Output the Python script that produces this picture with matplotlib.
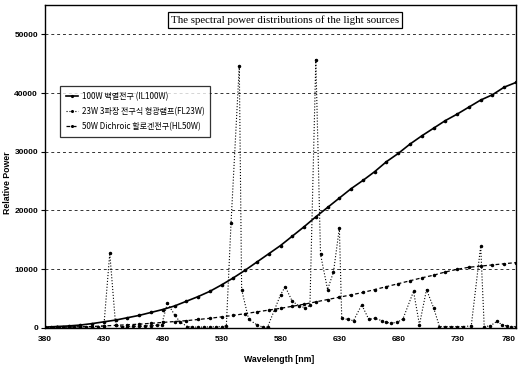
import matplotlib
matplotlib.use("Agg")
import matplotlib.pyplot as plt

# 100W 백열전구 (IL100W), 10 nm 간격
il_nm = list(range(380, 781, 10))
il_val = [100, 200, 300, 450, 700, 1000, 1300, 1700, 2100, 2600,
          3100, 3700, 4500, 5300, 6200, 7300, 8500, 9800, 11200, 12600,
          14000, 15600, 17200, 18900, 20500, 22100, 23700, 25100, 26600, 28300,
          29700, 31300, 32700, 34000, 35300, 36400, 37600, 38800, 39700, 41000,
          41800]

# 23W 3파장 전구식 형광램프(FL23W)
fl_nm = [380, 385, 390, 395, 400, 405, 410, 415, 420, 425, 430, 435, 440,
         445, 450, 455, 460, 465, 470, 475, 479, 484, 490, 495, 501, 505,
         510, 515, 520, 525, 530, 534, 538, 545, 547, 553, 560, 565, 569,
         575, 580, 584, 590, 596, 601, 605, 610, 614, 620, 625, 630, 632,
         637, 642, 649, 655, 660, 666, 670, 674, 679, 684, 693, 698, 704,
         710, 715, 720, 725, 730, 735, 742, 750, 753, 758, 764, 768, 772,
         776, 780]
fl_val = [100, 100, 150, 100, 150, 150, 200, 150, 200, 200, 300, 12700, 400,
          200, 200, 250, 250, 300, 350, 400, 500, 4200, 2200, 900, 200, 100,
          100, 100, 150, 150, 200, 300, 17900, 44600, 6500, 1400, 500, 100, 100,
          3100, 5600, 7000, 4500, 3700, 3400, 3800, 45700, 12500, 6500, 9500, 17000, 1650,
          1400, 1200, 3900, 1400, 1600, 1200, 900, 800, 900, 1500, 6200, 500, 6500,
          3400, 200, 200, 200, 200, 200, 300, 13900, 200, 300, 1100, 500, 300,
          200, 200]

# 50W Dichroic 할로겐전구(HL50W), 10 nm 간격
hl_nm = list(range(380, 781, 10))
hl_val = [0, 50, 100, 150, 200, 300, 400, 500, 600, 750,
          900, 1050, 1200, 1400, 1600, 1850, 2100, 2400, 2700, 3000,
          3300, 3650, 4000, 4400, 4800, 5200, 5600, 6000, 6500, 7000,
          7500, 8000, 8500, 8950, 9500, 9950, 10300, 10500, 10700, 10900,
          11100]

labels = ["100W 백열전구 (IL100W)",
          "23W 3파장 전구식 형광램프(FL23W)",
          "50W Dichroic 할로겐전구(HL50W)"]
xticks = [380, 430, 480, 530, 580, 630, 680, 730, 780]
yticks = [0, 10000, 20000, 30000, 40000, 50000]

plt.rcParams['font.family'] = ['Noto Sans CJK KR', 'DejaVu Sans']

fig = plt.figure(figsize=(5.22, 3.66), dpi=100)
ax = fig.add_axes([45 / 522, 38.3 / 366, 471 / 522, 322.7 / 366])

ax.plot(il_nm, il_val, color='black', lw=1.2, ls='-', marker='.', ms=3.2,
        label=labels[0], zorder=3)
ax.plot(fl_nm, fl_val, color='black', lw=0.8, ls=':', marker='.', ms=3,
        label=labels[1], zorder=3)
ax.plot(hl_nm, hl_val, color='black', lw=0.9, ls=(0, (3, 2)), marker='.', ms=3,
        label=labels[2], zorder=3)

ax.set_xlim(380, 780)
ax.set_ylim(0, 55000)
ax.set_xticks(xticks)
ax.set_yticks(yticks)
ax.set_xticklabels([str(t) for t in xticks])
ax.set_yticklabels([str(t) for t in yticks])
for lab in ax.get_xticklabels() + ax.get_yticklabels():
    lab.set_family(['Liberation Sans', 'DejaVu Sans'])
    lab.set_fontsize(6)
    lab.set_fontweight('bold')
ax.get_xticklabels()[-1].set_ha('right')
ax.tick_params(axis='y', length=3, width=0.8, pad=2)
ax.tick_params(axis='x', length=0, pad=6)
ax.yaxis.grid(True, color='#333333', ls=(0, (3, 3)), lw=0.7)
ax.set_axisbelow(True)
for sp in ax.spines.values():
    sp.set_color('black')
    sp.set_linewidth(1.0)

fig.text(8 / 522, 0.5, "Relative Power", rotation=90, ha='center', va='center',
         fontsize=6.3, fontweight='bold', family=['Liberation Sans', 'DejaVu Sans'])
fig.text(279 / 522, 7 / 366, "Wavelength [nm]", ha='center', va='center',
         fontsize=6.3, fontweight='bold', family=['Liberation Sans', 'DejaVu Sans'])

fig.text(285 / 522, 346 / 366, "The spectral power distributions of the light sources",
         ha='center', va='center', fontsize=7.8, family=['Liberation Serif', 'DejaVu Serif'],
         bbox=dict(boxstyle='square,pad=0.3', fc='white', ec='black', lw=0.9))

leg = ax.legend(loc='upper left', bbox_to_anchor=(11 / 471, (322.7 - 77) / 322.7),
                fontsize=5.8, frameon=True, fancybox=False, edgecolor='black',
                handlelength=1.5, handletextpad=0.5, labelspacing=0.75,
                borderpad=0.7, markerscale=0.8)
leg.get_frame().set_linewidth(0.9)

fig.savefig("out.png", dpi=100)
